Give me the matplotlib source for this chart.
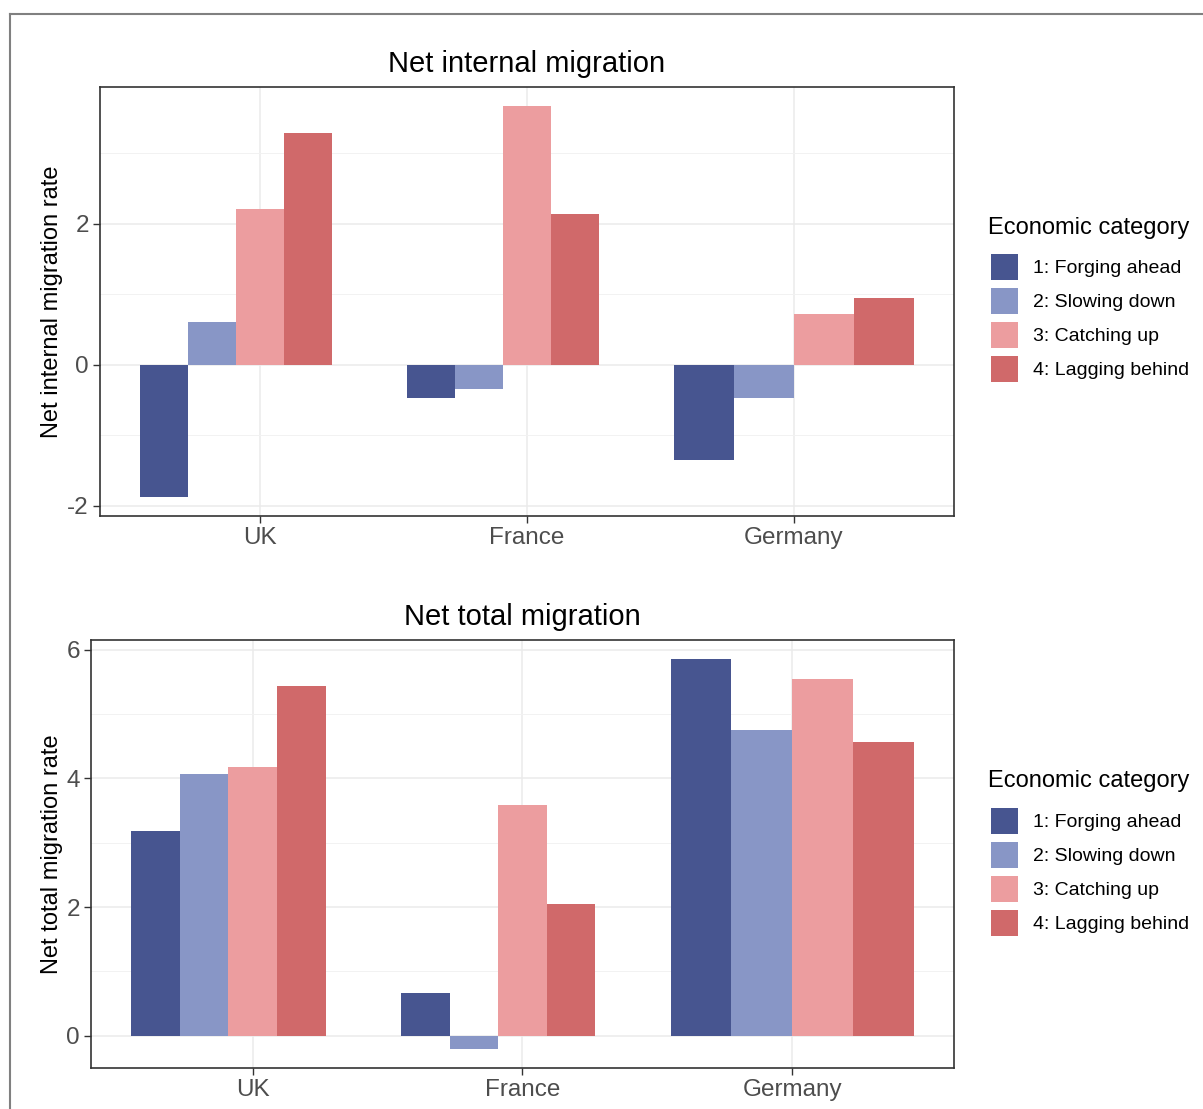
import numpy as np
import matplotlib
matplotlib.use("Agg")
import matplotlib.pyplot as plt
from matplotlib.patches import Patch
from matplotlib.lines import Line2D
from matplotlib.ticker import MultipleLocator

# =====================================================
# 1. DATA
# =====================================================

countries = ["UK", "France", "Germany"]
categories = ["1: Forging ahead", "2: Slowing down", "3: Catching up", "4: Lagging behind"]
colors = ["#475590", "#8896C6", "#EC9D9F", "#D0696A"]

# net internal migration rate, one list per economic category (UK, France, Germany)
internal_forging = [-1.87, -0.47, -1.35]
internal_slowing = [0.61, -0.34, -0.47]
internal_catching = [2.21, 3.66, 0.72]
internal_lagging = [3.28, 2.13, 0.94]

# net total migration rate
total_forging = [3.19, 0.67, 5.85]
total_slowing = [4.07, -0.20, 4.76]
total_catching = [4.18, 3.58, 5.54]
total_lagging = [5.43, 2.04, 4.56]

# dodge slots per country (UK / France have an empty fifth slot)
dodge_slots = [5, 5, 4]

plt.rcParams["font.family"] = ["Liberation Sans", "DejaVu Sans"]
plt.rcParams["axes.unicode_minus"] = False

W, H = 1203, 1109


# =====================================================
# 2. HELPERS
# =====================================================

def draw_panel(ax, series, title, ylabel, ymajor, label_x):
    x = np.arange(1, len(countries) + 1)
    for ci in range(len(countries)):
        n = dodge_slots[ci]
        w = 0.9 / n
        for j, vals in enumerate(series):
            xpos = x[ci] - 0.45 + (j + 0.5) * w
            ax.bar(xpos, vals[ci], width=w, color=colors[j], linewidth=0, zorder=3)

    # ggplot-like expansion
    allv = np.concatenate([np.array(s) for s in series] + [np.array([0.0])])
    lo, hi = allv.min(), allv.max()
    span = hi - lo
    ax.set_ylim(lo - 0.05 * span, hi + 0.05 * span)
    ax.set_xlim(0.4, len(countries) + 0.6)

    ax.set_xticks(x)
    ax.set_xticklabels(countries)
    ax.yaxis.set_major_locator(MultipleLocator(ymajor))
    ax.yaxis.set_minor_locator(MultipleLocator(ymajor / 2))

    ax.grid(True, which="major", color="#EBEBEB", linewidth=1.1, zorder=0)
    ax.grid(True, which="minor", axis="y", color="#F2F2F2", linewidth=0.7, zorder=0)
    ax.set_axisbelow(True)
    ax.tick_params(which="minor", length=0)
    ax.tick_params(which="major", length=5, width=1, color="#333333",
                   labelsize=17.5, labelcolor="#4D4D4D", pad=3)
    for s in ax.spines.values():
        s.set_color("#333333")
        s.set_linewidth(1.2)

    ax.set_title(title, fontsize=21, pad=11)
    ax.set_ylabel(ylabel, fontsize=17)
    ax.yaxis.set_label_coords(label_x, 0.5)


def add_legend(fig, title_y, keys_y):
    fig.text(988 / W, 1 - title_y / H, "Economic category", fontsize=17,
             ha="left", va="center")
    handles = [Patch(facecolor=c, edgecolor="none") for c in colors]
    leg = fig.legend(handles, categories, loc="upper left",
                     bbox_to_anchor=(991 / W, 1 - keys_y / H), frameon=False,
                     fontsize=14, handlelength=1.38, handleheight=1.68,
                     labelspacing=0.41, handletextpad=0.8, borderpad=0,
                     borderaxespad=0)
    return leg


# =====================================================
# 3. FIGURE
# =====================================================

fig = plt.figure(figsize=(W / 100, H / 100), dpi=100)

ax1 = fig.add_axes([0.0831, 0.5347, 0.7099, 0.3869])
draw_panel(ax1, [internal_forging, internal_slowing, internal_catching, internal_lagging],
           "Net internal migration", "Net internal migration rate", 2, -0.0433)

ax2 = fig.add_axes([0.0756, 0.0370, 0.7174, 0.3859])
draw_panel(ax2, [total_forging, total_slowing, total_catching, total_lagging],
           "Net total migration", "Net total migration rate", 2, -0.0324)

add_legend(fig, 228, 254)
add_legend(fig, 781, 808)

# outer frame (top and left edges)
fx, fy = 10 / W, 1 - 14 / H
fig.add_artist(Line2D([fx, fx], [0, fy], color="#808080", linewidth=1.5))
fig.add_artist(Line2D([fx, 1], [fy, fy], color="#808080", linewidth=1.5))

fig.savefig("out.png", dpi=100)
